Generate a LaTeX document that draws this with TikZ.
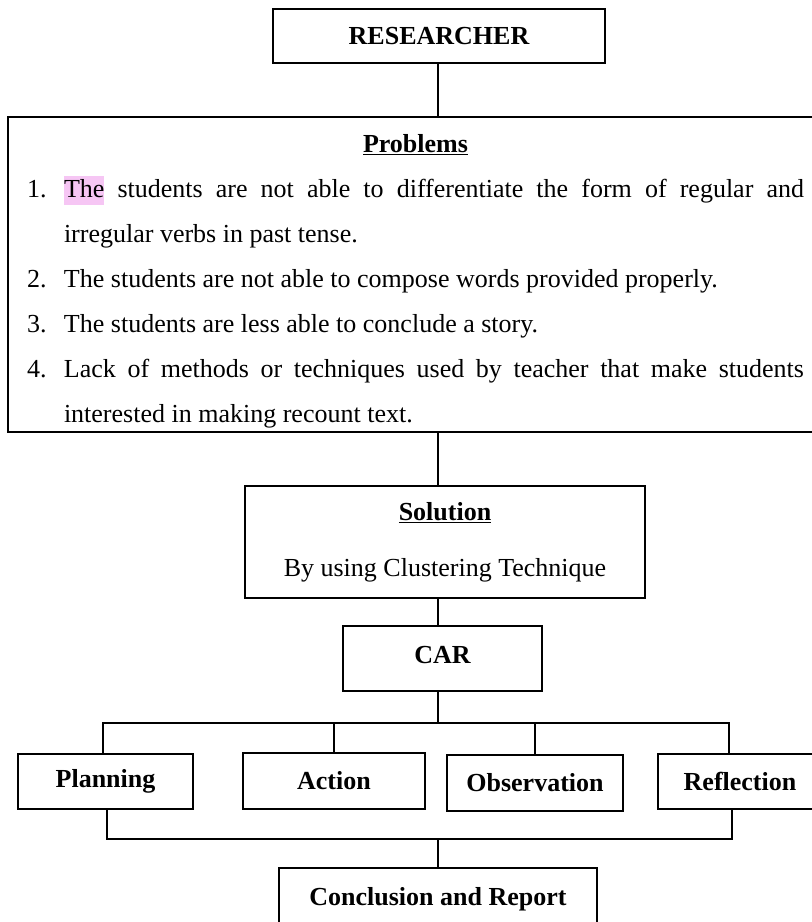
\documentclass[tikz,border=0pt]{standalone}
\usepackage{fontspec}
\setmainfont{Liberation Serif}
\definecolor{hlpink}{RGB}{246,198,244}
\newcommand{\probitem}[2]{\par\noindent\hangindent=27.75pt\hangafter=1\makebox[27.75pt][l]{#1}#2}

\begin{document}
\begin{tikzpicture}[
    x=0.75pt, y=-0.75pt,
    box/.style={draw, line width=1.2pt, rectangle, inner sep=0pt,
      font=\fontsize{19.5}{23}\selectfont\bfseries},
    txt/.style={inner sep=0pt, font=\fontsize{19.5}{33.75}\selectfont},
    link/.style={line width=1.2pt},
  ]
  \useasboundingbox (0,0) rectangle (812,922);
  \clip (0,0) rectangle (812,922);
  % spine and the two buses
  \coordinate (axis) at (438,0);
  \coordinate (busL) at (103,723);
  \coordinate (busR) at (729,723);
  \coordinate (lowL) at (107,839);
  \coordinate (lowR) at (732,839);

  \node[box, minimum width=249pt, minimum height=40.5pt] (researcher) at (439,36) {RESEARCHER};
  \node[box, minimum width=645pt, minimum height=236.25pt] (problems) at (438,274.5) {};
  \node[txt, text width=582.75pt, align=justify] (problist) at (415.5,281) {%
    \noindent\makebox[\linewidth]{\underline{\textbf{Problems}}}
    \probitem{1.}{{\setlength{\fboxsep}{0pt}\colorbox{hlpink}{\rule[-6pt]{0pt}{21.75pt}The}} students are not able to differentiate the form of regular and\linebreak irregular verbs in past tense.}
    \probitem{2.}{The students are not able to compose words provided properly.}
    \probitem{3.}{The students are less able to conclude a story.}
    \probitem{4.}{Lack of methods or techniques used by teacher that make students\linebreak interested in making recount text.}\par};
  \node[box, font=\fontsize{19.5}{42}\selectfont, align=center,
    minimum width=300pt, minimum height=84pt] (solution) at (445,542)
    {\underline{\textbf{Solution}}\\ By using Clustering Technique};
  \node[box, minimum width=149.25pt, minimum height=48.75pt] (car) at (442.5,658.5) {\raisebox{5.6pt}{CAR}};

  \node[box, minimum width=131.25pt, minimum height=41.25pt] (planning) at (105.5,781.5) {Planning};
  \node[box, minimum width=136.5pt, minimum height=42pt] (action) at (334,781) {Action};
  \node[box, minimum width=132pt, minimum height=42pt] (observation) at (535,783) {Observation};
  \node[box, minimum width=123pt, minimum height=41.25pt] (reflection) at (740,781.5) {Reflection};
  \node[box, minimum width=238.5pt, minimum height=46.5pt] (conclusion) at (438,899) {\raisebox{4.5pt}{Conclusion and Report}};

  \draw[link] (researcher.south -| axis) -- (problems.north -| axis);
  \draw[link] (problems.south -| axis) -- (solution.north -| axis);
  \draw[link] (solution.south -| axis) -- (car.north -| axis);
  \draw[link] (car.south -| axis) -- (axis |- busR);
  \draw[link] (planning.north -| busL) |- (busR) -- (reflection.north -| busR);
  \draw[link] (action.north) -- (action.north |- busR);
  \draw[link] (observation.north) -- (observation.north |- busR);
  \draw[link] (planning.south -| lowL) |- (lowR) -- (reflection.south -| lowR);
  \draw[link] (axis |- lowR) -- (conclusion.north -| axis);
\end{tikzpicture}
\end{document}
